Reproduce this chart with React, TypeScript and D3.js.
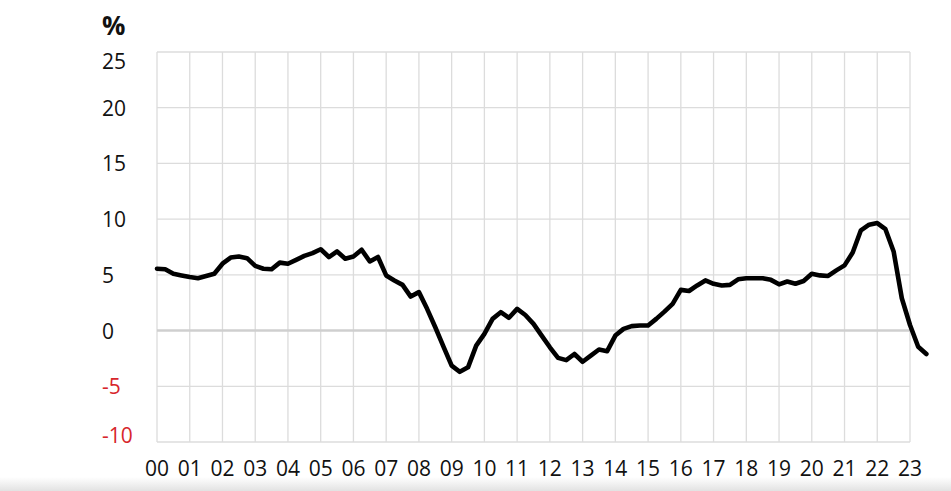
import React from "react";
import * as d3 from "d3";

const yearLabels = ["00","01","02","03","04","05","06","07","08","09","10","11","12","13","14","15","16","17","18","19","20","21","22","23"];
const yTicks = [25, 20, 15, 10, 5, 0, -5, -10];
const startYear = 2000;
// quarterly values, 2000 Q1 .. 2023 Q3
const values = [
  5.55, 5.5, 5.1, 4.95, 4.8, 4.7, 4.9, 5.1,
  6.0, 6.55, 6.65, 6.5, 5.8, 5.55, 5.5, 6.1,
  6.0, 6.35, 6.7, 6.95, 7.3, 6.6, 7.1, 6.45,
  6.65, 7.25, 6.2, 6.6, 4.95, 4.5, 4.1, 3.05,
  3.45, 1.95, 0.3, -1.45, -3.15, -3.7, -3.3, -1.35,
  -0.3, 1.05, 1.65, 1.15, 1.95, 1.4, 0.6, -0.45,
  -1.5, -2.45, -2.65, -2.1, -2.8, -2.25, -1.7, -1.85,
  -0.45, 0.15, 0.4, 0.45, 0.45, 1.05, 1.7, 2.4,
  3.65, 3.55, 4.05, 4.5, 4.2, 4.05, 4.1, 4.6,
  4.7, 4.7, 4.7, 4.55, 4.15, 4.4, 4.2, 4.45,
  5.1, 4.95, 4.9, 5.4, 5.85, 7.0, 9.0, 9.5,
  9.65, 9.1, 7.1, 2.9, 0.5, -1.45, -2.1,
];

const W = 951, H = 491;
const left = 157, right = 910, top = 52, bottom = 442;

export default function App() {
  const x = d3.scaleLinear().domain([startYear, startYear + 23]).range([left, right]);
  const y = d3.scaleLinear().domain([-10, 25]).range([bottom, top]);
  const pts = values.map((v, i) => [startYear + i / 4, v] as [number, number]);
  const line = d3.line<[number, number]>().x(d => x(d[0])).y(d => y(d[1]));
  const font = "'Open Sans', 'DejaVu Sans', sans-serif";
  return (
    <div style={{ position: "absolute", left: 0, top: 0 }}>
      <svg width={W} height={H} style={{ display: "block", background: "#fff" }}>
        <defs>
          <linearGradient id="shade" x1="0" y1="0" x2="0" y2="1">
            <stop offset="0" stopColor="#ffffff" />
            <stop offset="1" stopColor="#e2e2e2" />
          </linearGradient>
        </defs>
        <rect x={0} y={477} width={W} height={H - 477} fill="url(#shade)" />
        {yTicks.filter(t => t !== 0).map(t => (
          <line key={"h" + t} x1={left} x2={right} y1={y(t)} y2={y(t)} stroke="#dcdcdc" strokeWidth={1.3} />
        ))}
        {yearLabels.map((_, i) => (
          <line key={"v" + i} x1={x(startYear + i)} x2={x(startYear + i)} y1={top} y2={bottom} stroke="#dcdcdc" strokeWidth={1.3} />
        ))}
        <line x1={left} x2={right} y1={y(0)} y2={y(0)} stroke="#cfcfcf" strokeWidth={2.6} />
        <path d={line(pts) || ""} fill="none" stroke="#000" strokeWidth={4.6} strokeLinejoin="round" strokeLinecap="round" />
        {yTicks.map(t => {
          const cy = Math.min(Math.max(y(t), top + 9), bottom - 7);
          return (
            <text key={"yt" + t} x={102} y={cy} dominantBaseline="central" fontFamily={font} fontSize={21}
              fill={t < 0 ? "#d7262b" : "#111"}>{t}</text>
          );
        })}
        {yearLabels.map((lab, i) => (
          <text key={"xt" + i} x={x(startYear + i)} y={476} textAnchor="middle" fontFamily={font} fontSize={21} fill="#111">{lab}</text>
        ))}
        <text x={102} y={35} fontFamily={font} fontSize={26} fontWeight="bold" fill="#111">%</text>
      </svg>
    </div>
  );
}
